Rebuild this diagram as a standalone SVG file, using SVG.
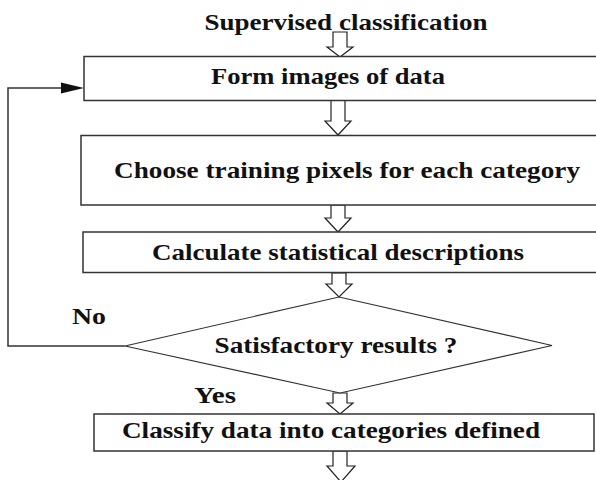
<svg xmlns="http://www.w3.org/2000/svg" width="596" height="480" viewBox="0 0 596 480">
<defs>
<style>
.t{font-family:"Liberation Serif","Times New Roman",serif;font-weight:700;font-size:23px;fill:#111}
.box{fill:#fff;stroke:#333;stroke-width:1.5}
.dia{fill:#fff;stroke:#333;stroke-width:1.2}
.ha{fill:#fff;stroke:#222;stroke-width:1.2;stroke-linejoin:miter}
.ln{fill:none;stroke:#333;stroke-width:1.5}
</style>
</defs>
<rect width="596" height="480" fill="#fff"/>
<g id="title">
<text class="t" x="346" y="30" text-anchor="middle" textLength="283" lengthAdjust="spacingAndGlyphs">Supervised classification</text>
</g>
<g id="connectors">
<path class="ha" d="M333,32 H347 V47 H353 L340,57 L327,47 H333 Z"/>
<path class="ha" d="M331,100.5 H345 V121 H351 L338,135 L325,121 H331 Z"/>
<path class="ha" d="M331,205 H345 V218 H351 L338,232 L325,218 H331 Z"/>
<path class="ha" d="M332,273 H346 V284 H352 L339,297 L326,284 H332 Z"/>
<path class="ha" d="M333,393 H347 V403 H353 L340,414 L327,403 H333 Z"/>
<path class="ha" d="M333,451 H347 V466 H355 L341,482 L327,466 H333 Z"/>
<polyline class="ln" points="125,346 8,346 8,88 64,88"/>
<path d="M61,82.5 L84,88 L61,93.5 Z" fill="#111"/>
</g>
<g id="form-images">
<rect class="box" x="84" y="56.5" width="530" height="44"/>
<text class="t" x="328" y="84" text-anchor="middle" textLength="234" lengthAdjust="spacingAndGlyphs">Form images of data</text>
</g>
<g id="choose-training">
<rect class="box" x="81" y="135.5" width="530" height="69.5"/>
<text class="t" x="347" y="178" text-anchor="middle" textLength="466" lengthAdjust="spacingAndGlyphs">Choose training pixels for each category</text>
</g>
<g id="calculate-stats">
<rect class="box" x="83" y="232" width="530" height="40.5"/>
<text class="t" x="338" y="260" text-anchor="middle" textLength="372" lengthAdjust="spacingAndGlyphs">Calculate statistical descriptions</text>
</g>
<g id="satisfactory">
<polygon class="dia" points="339,297 552,345.5 340,393 125,346"/>
<text class="t" x="336" y="353" text-anchor="middle" textLength="243" lengthAdjust="spacingAndGlyphs">Satisfactory results ?</text>
</g>
<g id="labels">
<text class="t" x="72" y="324" textLength="34" lengthAdjust="spacingAndGlyphs">No</text>
<text class="t" x="194" y="403" textLength="42" lengthAdjust="spacingAndGlyphs">Yes</text>
</g>
<g id="classify">
<rect class="box" x="94" y="414" width="500" height="37"/>
<text class="t" x="331" y="438" text-anchor="middle" textLength="418" lengthAdjust="spacingAndGlyphs">Classify data into categories defined</text>
</g>
</svg>
